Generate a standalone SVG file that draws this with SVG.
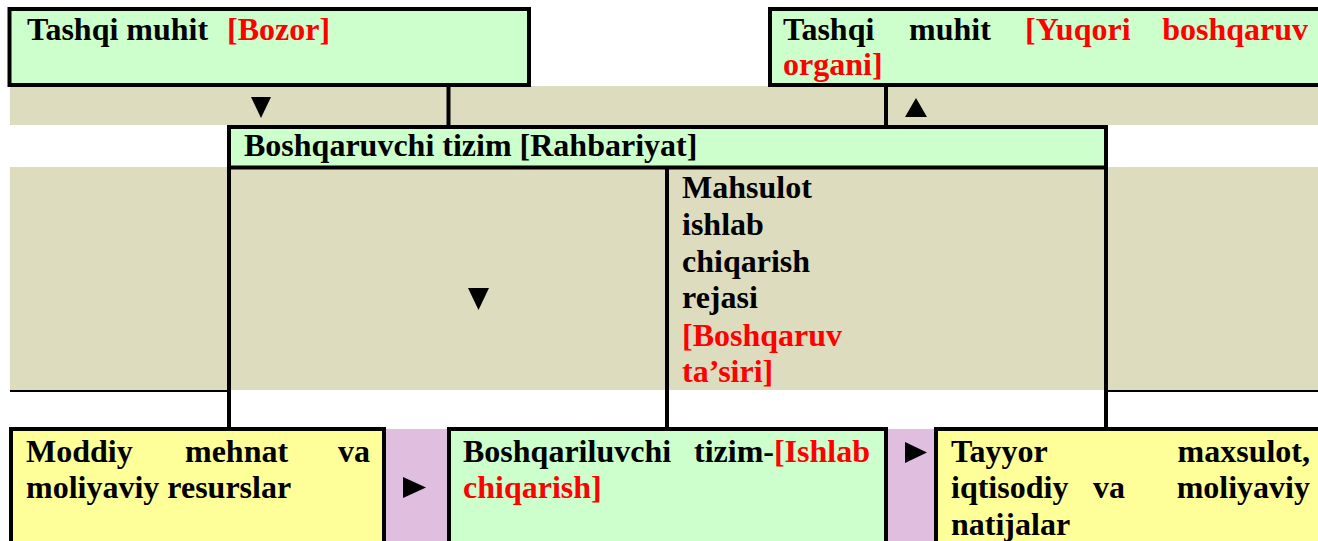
<svg xmlns="http://www.w3.org/2000/svg" width="1318" height="541" viewBox="0 0 1318 541">
<style>
.t{font-family:"Liberation Serif","Times New Roman",serif;font-weight:bold;font-size:32px;fill:#000}
.r{fill:#FF0000}
.box{stroke:#000;stroke-width:4}
.g{fill:#CCFFCC}
.y{fill:#FFFF99}
.ln{stroke:#000;stroke-width:4;fill:none}
.thin{stroke:#000;stroke-width:2;fill:none}
.arr{fill:#000}
</style>
<rect width="1318" height="541" fill="#FFFFFF"/>
<g id="background">
<rect x="10" y="86" width="1308" height="39" fill="#DEDCBE"/>
<rect x="10" y="167" width="1308" height="223" fill="#DEDCBE"/>
<rect x="386" y="429" width="62" height="112" fill="#DFBEDF"/>
<rect x="887" y="429" width="50" height="112" fill="#DFBEDF"/>
</g>
<g id="connectors">
<line class="ln" x1="448.5" y1="86" x2="448.5" y2="127"/>
<line class="ln" x1="886" y1="86" x2="886" y2="127"/>
<line class="ln" x1="229" y1="167" x2="229" y2="431"/>
<line class="ln" x1="667" y1="167" x2="667" y2="431"/>
<line class="ln" x1="1106" y1="167" x2="1106" y2="431"/>
<line class="thin" x1="10" y1="391" x2="229" y2="391"/>
<line class="thin" x1="1106" y1="391" x2="1318" y2="391"/>
<polygon class="arr" points="251,97 271,97 261,118"/>
<polygon class="arr" points="905,117 927,117 916,98"/>
<polygon class="arr" points="468,288 489,288 478.5,310"/>
<polygon class="arr" points="403,477 403,498 426,487.5"/>
<polygon class="arr" points="905,442 905,463 927,452.5"/>
</g>
<g id="node-bozor">
<rect class="box g" x="9.5" y="9" width="519.5" height="76"/>
<text class="t" y="40"><tspan x="27">Tashqi muhit</tspan><tspan x="227" class="r">[Bozor]</tspan></text>
</g>
<g id="node-yuqori">
<rect class="box g" x="770" y="9" width="560" height="76"/>
<text class="t" y="40"><tspan x="783">Tashqi</tspan><tspan x="909">muhit</tspan><tspan x="1025" class="r">[Yuqori</tspan></text>
<text class="t r" x="1308" y="40" text-anchor="end">boshqaruv</text>
<text class="t r" x="783" y="75">organi]</text>
</g>
<g id="node-rahbariyat">
<rect class="box g" x="229" y="127" width="877" height="40.5"/>
<text class="t" x="244" y="156">Boshqaruvchi tizim [Rahbariyat]</text>
</g>
<g id="node-reja">
<text class="t" x="682" y="198">Mahsulot</text>
<text class="t" x="682" y="235">ishlab</text>
<text class="t" x="682" y="272">chiqarish</text>
<text class="t" x="682" y="308">rejasi</text>
<text class="t r" x="682" y="346">[Boshqaruv</text>
<text class="t r" x="682" y="382">ta’siri]</text>
</g>
<g id="node-resurslar">
<rect class="box y" x="11" y="429" width="373" height="130"/>
<text class="t" y="462"><tspan x="26">Moddiy</tspan><tspan x="185">mehnat</tspan></text>
<text class="t" x="370" y="462" text-anchor="end">va</text>
<text class="t" x="26" y="498">moliyaviy resurslar</text>
</g>
<g id="node-ishlab">
<rect class="box g" x="449" y="429" width="437" height="130"/>
<text class="t" x="463" y="462">Boshqariluvchi</text>
<text class="t" x="870" y="462" text-anchor="end">tizim-<tspan class="r">[Ishlab</tspan></text>
<text class="t r" x="463" y="498">chiqarish]</text>
</g>
<g id="node-natijalar">
<rect class="box y" x="936" y="429" width="400" height="130"/>
<text class="t" x="951" y="462">Tayyor</text>
<text class="t" x="1310" y="462" text-anchor="end">maxsulot,</text>
<text class="t" y="498"><tspan x="951">iqtisodiy</tspan><tspan x="1093">va</tspan></text>
<text class="t" x="1310" y="498" text-anchor="end">moliyaviy</text>
<text class="t" x="951" y="535">natijalar</text>
</g>
</svg>
